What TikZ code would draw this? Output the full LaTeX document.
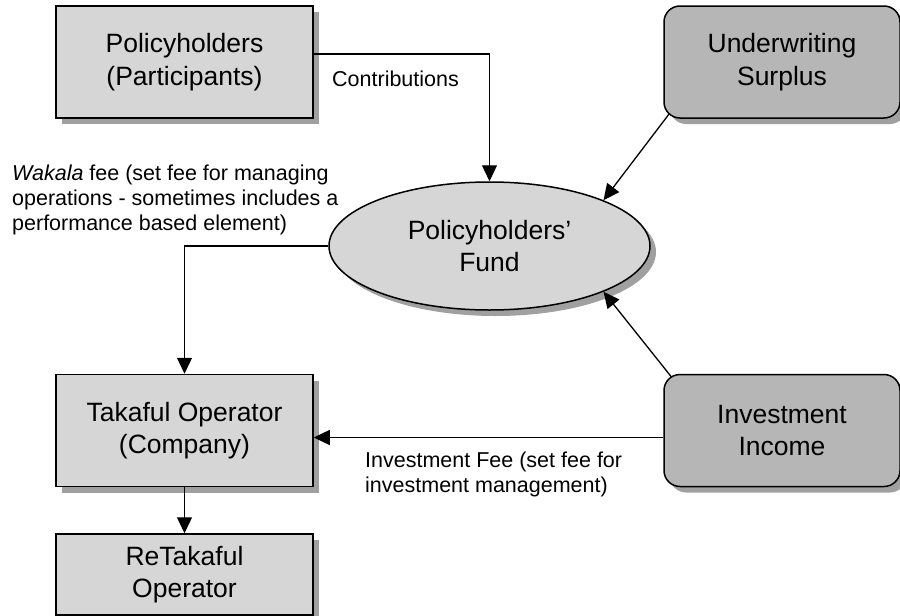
\documentclass[tikz,border=0pt]{standalone}
\usepackage{fontspec}
\setmainfont{Liberation Sans}
\usetikzlibrary{shapes.geometric, shadows, arrows.meta}
\definecolor{boxgray}{HTML}{D6D6D6}
\definecolor{darkgray}{HTML}{B6B6B6}
\definecolor{shadowgray}{HTML}{A0A0A0}
\begin{document}
\begin{tikzpicture}[x=1pt, y=-1pt,
    box/.style={rectangle, draw, line width=1.5pt, fill=boxgray, minimum width=257pt, minimum height=112pt,
        align=center, font=\fontsize{26.5}{32.5}\selectfont,
        drop shadow={shadow xshift=6pt, shadow yshift=-6pt, fill=shadowgray, opacity=1}},
    rbox/.style={box, rounded corners=16pt, fill=darkgray, minimum width=236pt},
    fundnode/.style={box, ellipse, inner sep=0pt, minimum width=321pt, minimum height=128pt},
    arr/.style={-{Triangle[length=16pt, width=15pt]}, line width=1.3pt},
    lbl/.style={font=\fontsize{21.5}{25}\selectfont, align=left, inner sep=0pt}]
    \useasboundingbox (0,0) rectangle (900,616);

    \node[box] (ph) at (184.5, 62) {Policyholders\\(Participants)};
    \node[rbox] (us) at (782, 62) {Underwriting\\Surplus};
    \node[fundnode] (fund) at (489.5, 246) {Policyholders’\\Fund};
    \node[box] (to) at (184.5, 430.5) {Takaful Operator\\(Company)};
    \node[box, minimum height=81pt] (rt) at (184.5, 574.5) {ReTakaful\\Operator};
    \node[rbox] (ii) at (782, 430.5) {Investment\\Income};

    % connectors
    \draw[arr] ([yshift=8pt]ph.east) -| (fund.north);
    \draw[arr] ([xshift=6pt, yshift=5pt]us.south west) -- (fund.north east);
    \draw[arr] ([xshift=8pt, yshift=-3pt]ii.north west) -- (fund.south east);
    \draw[arr] (fund.west) -| (to.north);
    \draw[arr] (to.south) -- (rt.north);
    \draw[arr] ([yshift=-7pt]ii.west) -- ([yshift=-7pt]to.east);

    % labels
    \node[lbl, anchor=west] (contrib) at (332, 79) {Contributions};
    \node[lbl, anchor=west] (wakala) at (12, 200) {\textit{Wakala} fee (set fee for managing\\operations - sometimes includes a\\performance based element)};
    \node[lbl, anchor=west] (invfee) at (365, 474.5) {Investment Fee (set fee for\\investment management)};
\end{tikzpicture}
\end{document}
